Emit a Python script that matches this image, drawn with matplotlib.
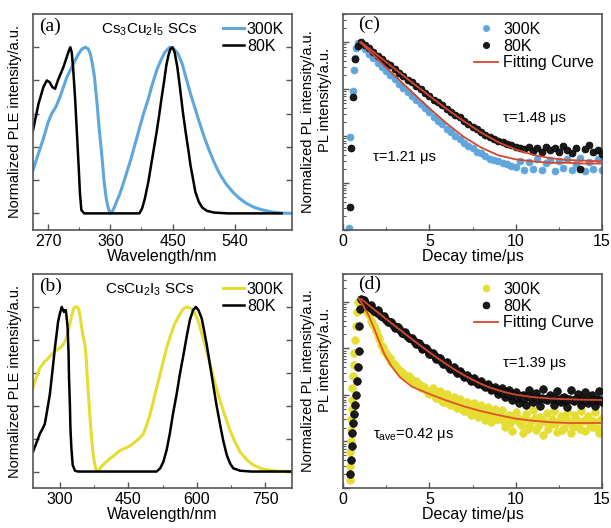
import matplotlib
matplotlib.use('Agg')
import matplotlib.pyplot as plt
from matplotlib.ticker import MultipleLocator, LogLocator, NullFormatter, FixedLocator

plt.rcParams['font.family'] = ['Liberation Sans', 'DejaVu Sans']
plt.rcParams['mathtext.fontset'] = 'custom'
plt.rcParams['mathtext.rm'] = 'Liberation Sans'
plt.rcParams['mathtext.it'] = 'Liberation Sans:italic'

# ---------------- Panel (a): Cs3Cu2I5 ----------------
a_80_x = [248, 256, 263, 268, 272, 276, 280, 284, 288, 292, 296, 300, 302, 304, 306, 309, 312, 314, 316, 318, 322, 402,
          406, 410, 415, 419, 423, 427, 431, 434, 438, 441, 444, 447, 450, 453, 457, 461, 465, 469, 473, 476, 480, 483,
          488, 493, 500, 510, 530, 608]
a_80_y = [0.50, 0.66, 0.76, 0.80, 0.79, 0.76, 0.75, 0.80, 0.84, 0.88, 0.93, 0.98, 1.0, 0.97, 0.88, 0.69, 0.45, 0.29, 0.12, 0.02, 0.0, 0.0,
          0.03, 0.09, 0.19, 0.29, 0.39, 0.49, 0.60, 0.69, 0.80, 0.89, 0.95, 0.99, 1.0, 0.97, 0.88, 0.75, 0.61, 0.49, 0.38, 0.29, 0.20, 0.13,
          0.07, 0.035, 0.015, 0.005, 0.0, 0.0]
a_300_x = [248, 255, 263, 270, 275, 281, 287, 292, 297, 303, 309, 314, 319, 324, 328, 331, 334, 337, 341, 344, 347, 351, 354, 357, 360,
           364, 368, 373, 378, 384, 390, 396, 402, 408, 415, 421, 427, 433, 439, 446, 452, 458, 464, 470, 476, 482, 488, 495, 503,
           511, 518, 527, 537, 547, 557, 569, 581, 595, 608, 625]
a_300_y = [0.26, 0.35, 0.45, 0.55, 0.60, 0.64, 0.70, 0.76, 0.82, 0.87, 0.92, 0.96, 0.99, 1.0, 0.99, 0.96, 0.90, 0.82, 0.65, 0.50, 0.38, 0.19, 0.09, 0.03, 0.0,
           0.02, 0.06, 0.11, 0.17, 0.25, 0.33, 0.42, 0.51, 0.60, 0.69, 0.78, 0.86, 0.92, 0.97, 1.0, 0.99, 0.96, 0.90, 0.81, 0.72, 0.64, 0.56, 0.47, 0.38,
           0.30, 0.24, 0.18, 0.13, 0.09, 0.06, 0.035, 0.02, 0.008, 0.002, 0.0]

# ---------------- Panel (b): CsCu2I3 ----------------
b_80_x = [241, 248, 256, 262, 267, 272, 278, 284, 289, 293, 296, 300, 304, 307, 309, 311, 313, 315, 317, 319, 320, 322, 323, 325, 328, 333, 340, 512,
          520, 527, 534, 541, 548, 556, 563, 571, 578, 585, 592, 598, 604, 611, 616, 622, 629, 636, 643, 651, 658, 666, 673, 680, 695, 720, 810]
b_80_y = [0.12, 0.17, 0.23, 0.26, 0.29, 0.37, 0.47, 0.62, 0.75, 0.84, 0.91, 0.96, 1.0, 0.98, 0.97, 0.98, 0.98, 0.93, 0.87, 0.72, 0.57, 0.40, 0.27, 0.15, 0.04, 0.005, 0.0, 0.0,
          0.02, 0.06, 0.13, 0.23, 0.35, 0.47, 0.59, 0.71, 0.82, 0.92, 0.98, 1.0, 0.98, 0.93, 0.86, 0.77, 0.65, 0.53, 0.41, 0.29, 0.19, 0.10, 0.05, 0.02, 0.005, 0.0, 0.0]
b_300_x = [241, 248, 256, 262, 267, 272, 278, 285, 293, 300, 307, 313, 318, 322, 326, 330, 334, 338, 342, 345, 348, 351, 355, 358, 360, 363, 366, 369, 373, 377, 380,
           386, 391, 400, 410, 420, 428, 437, 446, 456, 465, 474, 483, 490, 498, 507, 516, 525, 534, 543, 552, 562, 571, 580, 588, 596, 604, 611, 618,
           626, 633, 642, 651, 662, 673, 684, 695, 710, 724, 740, 754, 775, 808]
b_300_y = [0.51, 0.57, 0.63, 0.65, 0.67, 0.68, 0.70, 0.72, 0.74, 0.75, 0.77, 0.80, 0.85, 0.90, 0.95, 0.99, 1.0, 1.0, 0.98, 0.93, 0.87, 0.82, 0.77, 0.68, 0.57, 0.45, 0.33, 0.22, 0.10, 0.04, 0.0,
           0.01, 0.03, 0.055, 0.08, 0.10, 0.12, 0.135, 0.145, 0.16, 0.18, 0.20, 0.23, 0.28, 0.35, 0.45, 0.55, 0.65, 0.75, 0.83, 0.90, 0.95, 0.99, 1.0, 0.99, 0.96, 0.91, 0.84, 0.77,
           0.69, 0.61, 0.52, 0.43, 0.34, 0.25, 0.18, 0.12, 0.07, 0.04, 0.02, 0.01, 0.003, 0.0]

# ---------------- Panel (c): Cs3Cu2I5 decay ----------------
c_300_t = [0.36, 0.38, 0.56, 0.62, 0.70, 0.78, 0.88,
           1.0, 1.25, 1.5, 1.75, 2.0, 2.25, 2.5, 2.75, 3.0, 3.25, 3.5, 3.75, 4.0, 4.25, 4.5, 4.75, 5.0, 5.25, 5.5, 5.75,
           6.0, 6.25, 6.5, 6.75, 7.0, 7.25, 7.5, 7.75, 8.0, 8.25, 8.5, 8.75, 9.0, 9.25, 9.5, 9.75, 10.0, 10.25, 10.5, 10.75,
           11.0, 11.25, 11.5, 11.75, 12.0, 12.25, 12.5, 12.75, 13.0, 13.25, 13.5, 13.75, 14.0, 14.25, 14.5, 14.75, 15.0]
c_300_v = [1.1e-4, 0.0097, 0.093, 0.26, 0.46, 0.76, 0.97,
           0.95, 0.72, 0.57, 0.46, 0.37, 0.30, 0.245, 0.20, 0.163, 0.132, 0.108, 0.088, 0.072, 0.059, 0.048, 0.039, 0.032, 0.026, 0.0215, 0.0178,
           0.0145, 0.0122, 0.0099, 0.0085, 0.0072, 0.0061, 0.0055, 0.0047, 0.0043, 0.0038, 0.0033, 0.0031, 0.0029, 0.0027, 0.0025, 0.0023, 0.0022, 0.0030, 0.0019, 0.0028,
           0.0020, 0.0032, 0.0019, 0.0027, 0.0031, 0.0018, 0.0029, 0.0021, 0.0033, 0.0019, 0.0026, 0.0034, 0.0018, 0.0028, 0.0020, 0.0033, 0.0019]
c_80_t = [0.39, 0.48, 0.58, 0.68, 0.87,
          1.05, 1.25, 1.5, 1.75, 2.0, 2.25, 2.5, 2.75, 3.0, 3.25, 3.5, 3.75, 4.0, 4.25, 4.5, 4.75, 5.0, 5.25, 5.5, 5.75,
          6.0, 6.25, 6.5, 6.75, 7.0, 7.25, 7.5, 7.75, 8.0, 8.25, 8.5, 8.75, 9.0, 9.25, 9.5, 9.75, 10.0, 10.25, 10.5, 10.75,
          11.0, 11.25, 11.5, 11.75, 12.0, 12.25, 12.5, 12.75, 13.0, 13.25, 13.5, 13.75, 14.0, 14.25, 14.5, 14.75, 15.0]
c_80_v = [3.1e-4, 0.0055, 0.067, 0.43, 0.82,
          1.0, 0.88, 0.74, 0.63, 0.52, 0.45, 0.37, 0.32, 0.27, 0.225, 0.195, 0.16, 0.14, 0.115, 0.10, 0.083, 0.072, 0.060, 0.053, 0.045,
          0.038, 0.033, 0.028, 0.025, 0.021, 0.018, 0.016, 0.0145, 0.012, 0.0108, 0.0094, 0.0088, 0.0080, 0.0074, 0.0068, 0.0064, 0.0060, 0.0056, 0.0052, 0.0058,
          0.0049, 0.0055, 0.0046, 0.0060, 0.0050, 0.0056, 0.0045, 0.0062, 0.0051, 0.0044, 0.0057, 0.0020, 0.0053, 0.0065, 0.0045, 0.0050, 0.0041]
c_fit300_t = [1.0, 2, 3, 4, 5, 6, 7, 8, 9, 10, 11, 12, 13, 14, 15]
c_fit300_v = [1.0, 0.44, 0.194, 0.0864, 0.0393, 0.0187, 0.0096, 0.0057, 0.0039, 0.0032, 0.0029, 0.0027, 0.0027, 0.0026, 0.0026]
c_fit80_t = [1.05, 2, 3, 4, 5, 6, 7, 8, 9, 10, 11, 12, 13, 14, 15]
c_fit80_v = [1.0, 0.529, 0.271, 0.139, 0.072, 0.038, 0.0208, 0.0119, 0.0074, 0.0052, 0.0040, 0.0034, 0.0031, 0.0030, 0.0029]

# ---------------- Panel (d): CsCu2I3 decay ----------------
d_300_t = [0.38, 0.40, 0.42, 0.44, 0.46, 0.48, 0.50, 0.52, 0.55, 0.58, 0.62, 0.66, 0.70, 0.75, 0.80, 0.85,
           1.0, 1.2, 1.4, 1.6, 1.8, 2.0, 2.2, 2.4, 2.6, 2.8, 3.0, 3.2, 3.4, 3.6, 3.8, 4.0, 4.2, 4.4, 4.6, 4.8,
           5.0, 5.2, 5.4, 5.6, 5.8, 6.0, 6.2, 6.4, 6.6, 6.8, 7.0, 7.2, 7.4, 7.6, 7.8, 8.0, 8.2, 8.4, 8.6, 8.8,
           9.0, 9.2, 9.4, 9.6, 9.8, 10.0, 10.2, 10.4, 10.6, 10.8, 11.0, 11.2, 11.4, 11.6, 11.8, 12.0, 12.2, 12.4,
           12.6, 12.8, 13.0, 13.2, 13.4, 13.6, 13.8, 14.0, 14.2, 14.4, 14.6, 14.8, 15.0]
d_300_v = [1.5e-4, 3e-4, 6e-4, 1e-3, 1.8e-3, 3e-3, 5e-3, 8e-3, 0.014, 0.025, 0.045, 0.08, 0.15, 0.3, 0.6, 1.0,
           1.05, 0.85, 0.62, 0.40, 0.30, 0.19, 0.12, 0.090, 0.065, 0.052, 0.045, 0.036, 0.032, 0.027, 0.025, 0.021, 0.020, 0.017, 0.016, 0.013,
           0.0105, 0.014, 0.0085, 0.012, 0.0072, 0.0105, 0.0060, 0.0090, 0.0052, 0.0082, 0.0045, 0.0072, 0.0038, 0.0066, 0.0034, 0.0060, 0.0029, 0.0055, 0.0026, 0.0050,
           0.0030, 0.0048, 0.0021, 0.0038, 0.0017, 0.0044, 0.0026, 0.0015, 0.0040, 0.0022, 0.0047, 0.0018, 0.0033, 0.0014, 0.0041, 0.0024, 0.0045, 0.0016,
           0.0035, 0.0020, 0.0043, 0.0015, 0.0038, 0.0025, 0.0046, 0.0017, 0.0036, 0.0021, 0.0044, 0.0015, 0.0032]
# second (interleaved) set of 300K points in (d)
d_300_t2 = [1.1, 1.3, 1.5, 1.7, 1.9, 2.1, 2.3, 2.5, 2.7, 2.9, 3.1, 3.3, 3.5, 3.7, 3.9, 4.1, 4.3, 4.5, 4.7, 4.9,
            5.1, 5.3, 5.5, 5.7, 5.9, 6.1, 6.3, 6.5, 6.7, 6.9, 7.1, 7.3, 7.5, 7.7, 7.9, 8.1, 8.3, 8.5, 8.7, 8.9,
            9.1, 9.3, 9.5, 9.7, 9.9, 10.1, 10.3, 10.5, 10.7, 10.9, 11.1, 11.3, 11.5, 11.7, 11.9, 12.1, 12.3, 12.5, 12.7, 12.9,
            13.1, 13.3, 13.5, 13.7, 13.9, 14.1, 14.3, 14.5, 14.7, 14.9]
d_300_v2 = [0.95, 0.72, 0.52, 0.36, 0.24, 0.16, 0.11, 0.080, 0.062, 0.048, 0.038, 0.033, 0.028, 0.024, 0.022, 0.018, 0.017, 0.014, 0.015, 0.011,
            0.012, 0.0095, 0.010, 0.0080, 0.0088, 0.0068, 0.0075, 0.0058, 0.0065, 0.0050, 0.0058, 0.0044, 0.0052, 0.0040, 0.0047, 0.0036, 0.0043, 0.0033, 0.0039, 0.0030,
            0.0036, 0.0027, 0.0033, 0.0025, 0.0031, 0.0034, 0.0023, 0.0030, 0.0019, 0.0028, 0.0032, 0.0022, 0.0029, 0.0026, 0.0019, 0.0031, 0.0024, 0.0028, 0.0018, 0.0030,
            0.0026, 0.0021, 0.0031, 0.0019, 0.0027, 0.0030, 0.0023, 0.0028, 0.0020, 0.0029]
d_80_t = [0.40, 0.45, 0.50, 0.55, 0.60, 0.65, 0.70, 0.75, 0.80, 0.85, 0.90, 0.95, 1.0, 1.05,
          1.2, 1.4, 1.6, 1.8, 2.0, 2.2, 2.4, 2.6, 2.8, 3.0, 3.2, 3.4, 3.6, 3.8, 4.0, 4.2, 4.4, 4.6, 4.8,
          5.0, 5.2, 5.4, 5.6, 5.8, 6.0, 6.2, 6.4, 6.6, 6.8, 7.0, 7.2, 7.4, 7.6, 7.8, 8.0, 8.2, 8.4, 8.6, 8.8,
          9.0, 9.2, 9.4, 9.6, 9.8, 10.0, 10.2, 10.4, 10.6, 10.8, 11.0, 11.2, 11.4, 11.6, 11.8, 12.0, 12.2, 12.4,
          12.6, 12.8, 13.0, 13.2, 13.4, 13.6, 13.8, 14.0, 14.2, 14.4, 14.6, 14.8, 15.0]
d_80_v = [2e-4, 4e-4, 8e-4, 1.5e-3, 2.5e-3, 4e-3, 6e-3, 0.01, 0.02, 0.04, 0.09, 0.3, 0.7, 1.15,
          1.10, 0.85, 0.86, 0.64, 0.66, 0.49, 0.50, 0.37, 0.38, 0.28, 0.29, 0.215, 0.225, 0.165, 0.172, 0.127, 0.133, 0.098, 0.103,
          0.076, 0.080, 0.059, 0.063, 0.046, 0.050, 0.037, 0.040, 0.030, 0.033, 0.024, 0.027, 0.020, 0.023, 0.017, 0.020, 0.0145, 0.017, 0.0125, 0.015,
          0.0105, 0.0138, 0.0090, 0.0125, 0.0078, 0.0118, 0.0068, 0.0100, 0.0060, 0.0125, 0.0072, 0.0110, 0.0058, 0.0132, 0.0080, 0.0102, 0.0062, 0.0120,
          0.0070, 0.0092, 0.0056, 0.0128, 0.0074, 0.0105, 0.0060, 0.0118, 0.0066, 0.0098, 0.0058, 0.0122, 0.0070]
# second (interleaved) set of 80K points in (d)
d_80_t2 = d_300_t2
d_80_v2 = [1.08, 0.95, 0.80, 0.72, 0.62, 0.55, 0.48, 0.42, 0.37, 0.32, 0.285, 0.25, 0.22, 0.19, 0.17, 0.148, 0.130, 0.113, 0.100, 0.088,
           0.078, 0.068, 0.061, 0.053, 0.048, 0.042, 0.038, 0.034, 0.031, 0.028, 0.025, 0.023, 0.021, 0.0195, 0.018, 0.0165, 0.0155, 0.0145, 0.0136, 0.0128,
           0.0120, 0.0112, 0.0108, 0.0101, 0.0098, 0.0092, 0.0096, 0.0088, 0.0093, 0.0085, 0.0090, 0.0084, 0.0088, 0.0082, 0.0087, 0.0081, 0.0086, 0.0080, 0.0085, 0.0080,
           0.0084, 0.0079, 0.0083, 0.0078, 0.0082, 0.0078, 0.0082, 0.0077, 0.0081, 0.0077]
d_fit300_t = [0.9, 1.2, 1.5, 1.8, 2.1, 2.4, 2.8, 3.3, 4.0, 5.0, 6.0, 7.0, 8.0, 9.0, 10.0, 11.0, 12.0, 13.0, 14.0, 15.0]
d_fit300_v = [1.2, 0.8, 0.5, 0.27, 0.14, 0.075, 0.042, 0.024, 0.015, 0.0105, 0.0076, 0.0057, 0.0045, 0.0037, 0.0031, 0.0028, 0.0026, 0.0025, 0.0025, 0.0025]
d_fit80_t = [1.05, 1.5, 2, 2.5, 3, 3.5, 4, 4.5, 5, 5.5, 6, 6.5, 7, 7.5, 8, 8.5, 9, 9.5, 10, 11, 12, 13, 14, 15]
d_fit80_v = [1.158, 0.851, 0.605, 0.431, 0.308, 0.220, 0.158, 0.114, 0.0832, 0.0613, 0.0457, 0.0346, 0.0268, 0.0213, 0.0173,
             0.0145, 0.0126, 0.0112, 0.0102, 0.0090, 0.0084, 0.0081, 0.0079, 0.0078]

BLUE = '#5EA6DC'
YELLOW = '#E5DD32'
RED = '#D8452E'
SPINE = '#555555'
FS = 11.5
FSL = 10.5

W, H = 611, 528
fig = plt.figure(figsize=(W / 100, H / 100), dpi=100)


def axrect(l, t, r, b):
    return [l / W, 1 - b / H, (r - l) / W, (b - t) / H]


axa = fig.add_axes(axrect(33, 14, 292, 230))
axb = fig.add_axes(axrect(33, 274, 292, 488))
axc = fig.add_axes(axrect(343, 14, 602, 230))
axd = fig.add_axes(axrect(343, 274, 602, 488))

for ax in (axa, axb, axc, axd):
    for s in ax.spines.values():
        s.set_color(SPINE)
        s.set_linewidth(1.2)
    ax.tick_params(direction='in', which='both', colors=SPINE, labelcolor='black', labelsize=FS, pad=3)
    ax.tick_params(which='major', length=4, width=1)
    ax.tick_params(which='minor', length=2.5, width=0.8)


def spectra(ax, x80, y80, x300, y300, c300, xlim, xmaj, xmin, title, tag):
    ax.plot(x300, y300, color=c300, lw=2.2, label='300K')
    ax.plot(x80, y80, color='black', lw=1.8, label='80K')
    ax.set_xlim(*xlim)
    ax.set_ylim(-0.1, 1.2)
    ax.xaxis.set_major_locator(FixedLocator(xmaj))
    ax.xaxis.set_minor_locator(FixedLocator(xmin))
    ax.set_yticks([0, 0.2, 0.4, 0.6, 0.8, 1.0])
    ax.tick_params(axis='y', which='both', left=True, right=True, labelleft=False)
    ax.set_xlabel('Wavelength/nm', fontsize=FS, labelpad=0)
    ax.set_ylabel('Normalized PLE intensity/a.u.', fontsize=FSL, labelpad=8)
    ax.text(0.025, 0.985, tag, transform=ax.transAxes, ha='left', va='top',
            fontsize=14, family=['Liberation Serif', 'DejaVu Serif'])
    ax.text(0.45, 0.925, title, transform=ax.transAxes, ha='center', va='center', fontsize=11)
    ax.legend(loc='upper right', frameon=False, fontsize=FS, handlelength=1.3, handletextpad=0.2,
              labelspacing=0.1, borderaxespad=0.1)


spectra(axa, a_80_x, a_80_y, a_300_x, a_300_y, BLUE, (248, 623), [270, 360, 450, 540], [315, 405, 495, 585],
        r'$\mathregular{Cs_3Cu_2I_5}$ SCs', '(a)')
spectra(axb, b_80_x, b_80_y, b_300_x, b_300_y, YELLOW, (241, 809), [300, 450, 600, 750], [375, 525, 675],
        r'$\mathregular{CsCu_2I_3}$ SCs', '(b)')


def decay(ax, t300, v300, t80, v80, ft300, fv300, ft80, fv80, c300, fitc300, tag, txt_hi, txt_lo, ms,
          extra300=None, extra80=None):
    ax.set_yscale('log')
    ax.plot(t300, v300, 'o', ms=ms, mfc=c300, mec=c300, mew=0.5, label='300K', zorder=2)
    if extra300 is not None:
        ax.plot(extra300[0], extra300[1], 'o', ms=ms, mfc=c300, mec=c300, mew=0.5, zorder=2)
    ax.plot(t80, v80, 'o', ms=ms, mfc='#1a1a1a', mec='black', mew=0.5, label='80K', zorder=3)
    if extra80 is not None:
        ax.plot(extra80[0], extra80[1], 'o', ms=ms, mfc='#1a1a1a', mec='black', mew=0.5, zorder=3)
    ax.plot(ft80, fv80, color=RED, lw=1.3, label='Fitting Curve', zorder=4)
    ax.plot(ft300, fv300, color=fitc300, lw=1.3, zorder=4)
    ax.set_xlim(0, 15)
    ax.set_ylim(1e-4, 4)
    ax.xaxis.set_major_locator(MultipleLocator(5))
    ax.xaxis.set_minor_locator(MultipleLocator(2.5))
    ax.yaxis.set_major_locator(LogLocator(base=10, numticks=10))
    ax.yaxis.set_minor_locator(LogLocator(base=10, subs=range(2, 10), numticks=20))
    ax.yaxis.set_major_formatter(NullFormatter())
    ax.yaxis.set_minor_formatter(NullFormatter())
    ax.set_xlabel('Decay time/μs', fontsize=FS, labelpad=0)
    ax.set_ylabel('Normalized PL intensity/a.u.', fontsize=FSL, labelpad=17)
    ax.text(-0.07, 0.6, 'PL intensity/a.u.', transform=ax.transAxes, rotation=90,
            ha='center', va='center', fontsize=FSL)
    ax.text(0.058, 0.99, tag, transform=ax.transAxes, ha='left', va='top',
            fontsize=14, family=['Liberation Serif', 'DejaVu Serif'])
    ax.text(0.618, txt_hi[1], txt_hi[0], transform=ax.transAxes, ha='left', va='center', fontsize=FSL)
    ax.text(0.116, txt_lo[1], txt_lo[0], transform=ax.transAxes, ha='left', va='center', fontsize=FSL)
    ax.legend(loc='upper right', frameon=False, fontsize=FS, handlelength=1.5, handletextpad=0.3,
              labelspacing=0.1, borderaxespad=0.1, markerscale=0.9)


decay(axc, c_300_t, c_300_v, c_80_t, c_80_v, c_fit300_t, c_fit300_v, c_fit80_t, c_fit80_v,
      BLUE, RED, '(c)', ('τ=1.48 μs', 0.52), ('τ=1.21 μs', 0.34), 5)
decay(axd, d_300_t, d_300_v, d_80_t, d_80_v, d_fit300_t, d_fit300_v, d_fit80_t, d_fit80_v,
      YELLOW, '#E0522A', '(d)', ('τ=1.39 μs', 0.585), (r'$\mathregular{\tau_{ave}}$=0.42 μs', 0.25), 5.5,
      extra300=(d_300_t2, d_300_v2), extra80=(d_80_t2, d_80_v2))

fig.savefig('out.png', dpi=100)
